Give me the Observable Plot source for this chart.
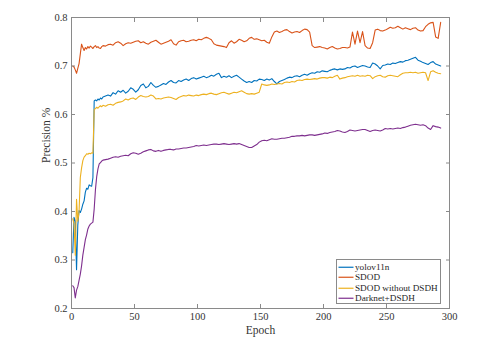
<!DOCTYPE html>
<html>
<head>
<meta charset="utf-8">
<script src="https://cdn.jsdelivr.net/npm/d3@7"></script>
<script src="https://cdn.jsdelivr.net/npm/@observablehq/plot@0.6"></script>
<style>
  html, body { margin: 0; padding: 0; background: #fff; }
  #wrap { position: relative; width: 495px; height: 350px; font-family: "Liberation Serif", "Times New Roman", serif; }
  #legend { position: absolute; left: 336px; top: 259px; width: 103px; height: 43px; border: 1px solid #8a8a8a; background: #fff; box-sizing: content-box; }
  .row { position: absolute; left: 0; height: 10.5px; line-height: 10.5px; font-size: 9.2px; color: #262626; white-space: nowrap; }
  .row svg { position: absolute; left: 1px; top: 0; }
  .row span { position: absolute; left: 18px; top: 0; }
</style>
</head>
<body>
<div id="wrap"><div id="legend"></div></div>
<script>
// Series names and colours
const names = ["yolov11n", "SDOD", "SDOD without DSDH", "Darknet+DSDH"];
const colors = ["#0072BD", "#D95319", "#EDB120", "#7E2F8E"];

// Epochs: 1..24, then every second epoch up to 293
const epochs = [...d3.range(1, 25), ...d3.range(25, 294, 2)];

const xTicks = [0, 50, 100, 150, 200, 250, 300];
const yTicks = [0.2, 0.3, 0.4, 0.5, 0.6, 0.7, 0.8];

const yolo = [
  0.315,0.388,0.380,0.280,0.372,0.402,0.398,0.405,0.415,0.422,
  0.440,0.448,0.446,0.455,0.453,0.452,0.470,0.628,0.630,0.628,
  0.632,0.630,0.634,0.632,
  0.636,0.638,0.640,0.638,0.645,0.642,0.649,0.646,0.650,0.644,
  0.648,0.655,0.652,0.646,0.651,0.660,0.663,0.655,0.658,0.666,
  0.660,0.656,0.658,0.661,0.664,0.662,0.667,0.670,0.666,0.665,
  0.670,0.668,0.671,0.673,0.670,0.674,0.676,0.673,0.675,0.677,
  0.679,0.676,0.678,0.681,0.679,0.683,0.685,0.676,0.679,0.677,
  0.680,0.676,0.679,0.681,0.677,0.673,0.669,0.666,0.668,0.666,
  0.670,0.669,0.673,0.672,0.670,0.673,0.671,0.674,0.668,0.663,
  0.668,0.670,0.672,0.675,0.677,0.676,0.679,0.680,0.678,0.681,
  0.683,0.681,0.684,0.686,0.685,0.688,0.687,0.690,0.689,0.688,
  0.691,0.693,0.694,0.692,0.694,0.693,0.694,0.697,0.696,0.699,
  0.700,0.697,0.699,0.701,0.700,0.698,0.697,0.706,0.704,0.700,
  0.694,0.701,0.702,0.704,0.703,0.706,0.705,0.707,0.709,0.708,
  0.711,0.712,0.714,0.716,0.718,0.712,0.710,0.707,0.705,0.703,
  0.707,0.709,0.704,0.702,0.700
];

const sdod = [
  0.700,0.698,0.692,0.685,0.695,0.705,0.725,0.745,0.738,0.732,
  0.738,0.735,0.740,0.737,0.741,0.739,0.736,0.740,0.742,0.738,
  0.740,0.737,0.736,0.740,
  0.742,0.741,0.744,0.745,0.743,0.748,0.750,0.747,0.742,0.746,
  0.748,0.747,0.749,0.751,0.752,0.748,0.750,0.747,0.745,0.749,
  0.751,0.753,0.749,0.745,0.747,0.749,0.751,0.754,0.746,0.743,
  0.750,0.752,0.753,0.750,0.751,0.753,0.754,0.752,0.755,0.754,
  0.757,0.759,0.757,0.754,0.746,0.743,0.742,0.741,0.740,0.738,
  0.748,0.752,0.747,0.750,0.755,0.753,0.750,0.752,0.757,0.759,
  0.755,0.756,0.754,0.752,0.753,0.749,0.747,0.760,0.770,0.772,
  0.769,0.771,0.774,0.775,0.771,0.768,0.770,0.771,0.769,0.773,
  0.776,0.775,0.770,0.742,0.738,0.739,0.740,0.738,0.737,0.735,
  0.738,0.740,0.737,0.735,0.736,0.738,0.738,0.737,0.739,0.770,
  0.745,0.772,0.748,0.771,0.742,0.737,0.736,0.748,0.774,0.776,
  0.773,0.772,0.774,0.777,0.780,0.778,0.779,0.782,0.779,0.776,
  0.779,0.777,0.775,0.778,0.779,0.774,0.772,0.773,0.781,0.786,
  0.789,0.790,0.760,0.757,0.790
];

const sdodNoDsdh = [
  0.385,0.375,0.310,0.425,0.380,0.400,0.470,0.490,0.505,0.512,
  0.515,0.519,0.518,0.520,0.519,0.521,0.520,0.610,0.612,0.615,
  0.613,0.616,0.618,0.616,
  0.619,0.617,0.620,0.621,0.619,0.623,0.625,0.626,0.628,0.632,
  0.630,0.633,0.634,0.631,0.636,0.639,0.637,0.636,0.637,0.640,
  0.638,0.632,0.633,0.632,0.634,0.635,0.636,0.635,0.633,0.631,
  0.635,0.637,0.639,0.638,0.640,0.639,0.638,0.640,0.639,0.641,
  0.642,0.641,0.643,0.644,0.642,0.641,0.643,0.645,0.646,0.644,
  0.642,0.644,0.646,0.645,0.647,0.649,0.646,0.643,0.642,0.643,
  0.642,0.644,0.646,0.663,0.661,0.660,0.661,0.663,0.662,0.663,
  0.664,0.663,0.666,0.667,0.666,0.668,0.667,0.670,0.671,0.670,
  0.672,0.673,0.672,0.673,0.674,0.673,0.675,0.676,0.676,0.675,
  0.677,0.676,0.679,0.681,0.673,0.675,0.676,0.678,0.679,0.680,
  0.679,0.681,0.679,0.680,0.679,0.681,0.680,0.674,0.678,0.680,
  0.681,0.678,0.677,0.680,0.681,0.680,0.679,0.678,0.682,0.685,
  0.686,0.686,0.687,0.686,0.687,0.685,0.686,0.687,0.686,0.670,
  0.688,0.690,0.687,0.685,0.684
];

const darknet = [
  0.247,0.243,0.222,0.238,0.245,0.258,0.271,0.288,0.310,0.326,
  0.342,0.352,0.364,0.370,0.374,0.376,0.378,0.405,0.445,0.472,
  0.488,0.498,0.501,0.504,
  0.506,0.507,0.508,0.510,0.512,0.513,0.512,0.514,0.515,0.516,
  0.515,0.519,0.521,0.520,0.518,0.520,0.523,0.525,0.527,0.528,
  0.525,0.524,0.526,0.524,0.526,0.527,0.528,0.528,0.527,0.529,
  0.529,0.530,0.531,0.531,0.532,0.533,0.534,0.536,0.535,0.536,
  0.537,0.536,0.537,0.538,0.539,0.539,0.538,0.539,0.540,0.539,
  0.538,0.539,0.540,0.539,0.540,0.538,0.536,0.534,0.532,0.532,
  0.535,0.538,0.543,0.546,0.547,0.546,0.548,0.550,0.549,0.549,
  0.550,0.551,0.551,0.552,0.553,0.555,0.555,0.556,0.556,0.557,
  0.556,0.557,0.558,0.558,0.557,0.558,0.559,0.560,0.562,0.561,
  0.563,0.564,0.565,0.567,0.566,0.564,0.563,0.565,0.568,0.567,
  0.566,0.567,0.568,0.569,0.569,0.567,0.565,0.567,0.568,0.567,
  0.566,0.568,0.571,0.570,0.571,0.570,0.571,0.572,0.571,0.573,
  0.574,0.576,0.578,0.579,0.580,0.579,0.578,0.579,0.577,0.572,
  0.569,0.577,0.575,0.574,0.572
];

const seriesValues = [yolo, sdod, sdodNoDsdh, darknet];
const rows = [];
seriesValues.forEach((vals, i) => {
  vals.forEach((v, j) => rows.push({ epoch: epochs[j], value: v, series: names[i] }));
});

const axisStroke = "#8a8a8a";
const textFill = "#333";

const chart = Plot.plot({
  width: 495,
  height: 350,
  marginLeft: 71,
  marginRight: 46,
  marginTop: 17,
  marginBottom: 42,
  style: { fontFamily: '"Liberation Serif", "Times New Roman", serif', fontSize: "10.5px", background: "#fff", overflow: "visible" },
  x: { domain: [0, 300] },
  y: { domain: [0.2, 0.8] },
  color: { domain: names, range: colors },
  marks: [
    Plot.frame({ stroke: axisStroke, strokeWidth: 1 }),
    Plot.line(rows, { x: "epoch", y: "value", z: "series", stroke: "series", strokeWidth: 1.1 }),
    Plot.axisX({ anchor: "bottom", ticks: xTicks, tickSize: -4, tickPadding: 8, stroke: axisStroke, fill: textFill, label: null, tickFormat: d => String(d) }),
    Plot.axisX({ anchor: "top", ticks: xTicks, tickSize: -4, stroke: axisStroke, label: null, tickFormat: () => "" }),
    Plot.axisY({ anchor: "left", ticks: yTicks, tickSize: -4, tickPadding: 8, stroke: axisStroke, fill: textFill, label: null, tickFormat: d => d.toFixed(1) }),
    Plot.axisY({ anchor: "right", ticks: yTicks, tickSize: -4, stroke: axisStroke, label: null, tickFormat: () => "" }),
    Plot.text(["Epoch"], { frameAnchor: "bottom", dy: 25, fontSize: 11.5, fill: textFill }),
    Plot.text(["Precision %"], { frameAnchor: "left", dx: -25, rotate: -90, fontSize: 11.5, fill: textFill })
  ]
});

document.getElementById("wrap").prepend(chart);

// Legend
const legend = document.getElementById("legend");
names.forEach((n, i) => {
  const row = document.createElement("div");
  row.className = "row";
  row.style.top = (1.75 + i * 10.5) + "px";
  row.style.width = "103px";
  row.innerHTML = `<svg width="16" height="10.5"><line x1="0.5" x2="15.5" y1="5.25" y2="5.25" stroke="${colors[i]}" stroke-width="1.2"/></svg><span>${n}</span>`;
  legend.appendChild(row);
});
</script>
</body>
</html>
